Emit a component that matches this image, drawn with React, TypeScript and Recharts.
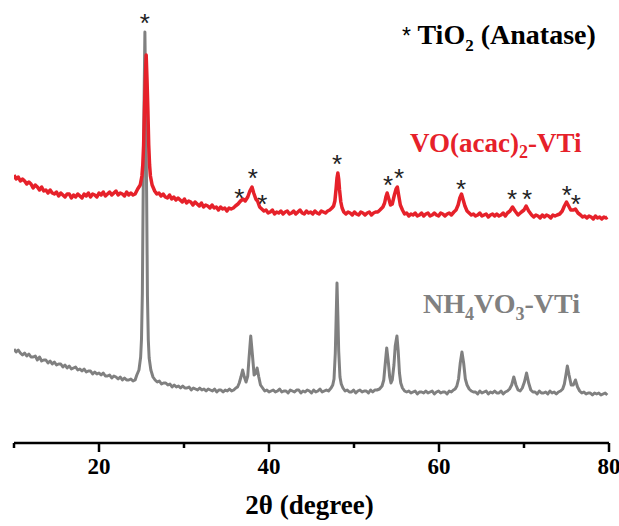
import { ComposedChart, Line, Scatter, XAxis, YAxis } from "recharts"

// 2θ (degree), intensity (a.u.)
const nh4vo3Pattern: [number, number][] = [
  [10.0, 94], [10.25, 91], [10.5, 93], [10.75, 90], [11.0, 88], [11.25, 90], [11.5, 87], [11.75, 89],
  [12.0, 86], [12.25, 86], [12.5, 87], [12.75, 83], [13.0, 86], [13.25, 82], [13.5, 83], [13.75, 83],
  [14.0, 80], [14.25, 82], [14.5, 79], [14.75, 81], [15.0, 78], [15.25, 79], [15.5, 79], [15.75, 76],
  [16.0, 78], [16.25, 75], [16.5, 77], [16.75, 74], [17.0, 75], [17.25, 76], [17.5, 73], [17.75, 74],
  [18.0, 72], [18.25, 74], [18.5, 71], [18.75, 72], [19.0, 72], [19.25, 69], [19.5, 71], [19.75, 69],
  [20.0, 70], [20.25, 68], [20.5, 70], [20.75, 67], [21.0, 67], [21.25, 68], [21.5, 65], [21.75, 67],
  [22.0, 66], [22.25, 64], [22.5, 66], [22.75, 63], [23.0, 65], [23.25, 63], [23.5, 63], [23.75, 64],
  [24.0, 62], [24.25, 63], [24.45, 68], [24.7, 73], [24.9, 86], [25.0, 104], [25.1, 149], [25.2, 253],
  [25.3, 340], [25.4, 411], [25.5, 340], [25.6, 252], [25.7, 147], [25.8, 103], [25.9, 85], [26.1, 73],
  [26.35, 66], [26.6, 63], [26.85, 61], [27.1, 62], [27.35, 59], [27.6, 60], [27.85, 60], [28.1, 58],
  [28.35, 59], [28.6, 56], [28.85, 58], [29.1, 56], [29.35, 57], [29.6, 55], [29.85, 57], [30.1, 55],
  [30.35, 55], [30.6, 56], [30.85, 53], [31.1, 55], [31.35, 54], [31.6, 53], [31.85, 55], [32.1, 53],
  [32.35, 54], [32.6, 52], [32.85, 54], [33.1, 53], [33.35, 52], [33.6, 54], [33.85, 51], [34.1, 53],
  [34.35, 53], [34.6, 51], [34.85, 53], [35.1, 52], [35.35, 54], [35.6, 52], [35.85, 53], [36.1, 55],
  [36.3, 56], [36.5, 60], [36.7, 66], [36.9, 73], [37.1, 66], [37.3, 61], [37.5, 67], [37.65, 85],
  [37.85, 107], [38.05, 88], [38.25, 68], [38.45, 70], [38.6, 75], [38.8, 66], [39.0, 58], [39.25, 55],
  [39.5, 52], [39.75, 53], [40.0, 51], [40.25, 52], [40.5, 53], [40.75, 51], [41.0, 52], [41.25, 54],
  [41.5, 51], [41.75, 52], [42.0, 52], [42.25, 50], [42.5, 53], [42.75, 52], [43.0, 51], [43.25, 53],
  [43.5, 53], [43.75, 50], [44.0, 52], [44.25, 51], [44.5, 53], [44.75, 52], [45.0, 50], [45.25, 53],
  [45.5, 51], [45.75, 52], [46.0, 54], [46.25, 51], [46.5, 52], [46.75, 53], [47.0, 52], [47.3, 55],
  [47.5, 58], [47.65, 64], [47.8, 90], [47.9, 125], [48.0, 160], [48.1, 128], [48.2, 92], [48.35, 66],
  [48.5, 59], [48.7, 55], [48.95, 52], [49.2, 53], [49.45, 51], [49.7, 51], [49.95, 53], [50.2, 50],
  [50.45, 52], [50.7, 53], [50.95, 51], [51.2, 52], [51.45, 52], [51.7, 50], [51.95, 53], [52.2, 51],
  [52.45, 53], [52.7, 53], [53.0, 54], [53.3, 57], [53.5, 63], [53.65, 77], [53.85, 95], [54.05, 80],
  [54.2, 66], [54.35, 60], [54.5, 63], [54.7, 78], [54.85, 97], [55.05, 107], [55.2, 92], [55.35, 70],
  [55.5, 60], [55.7, 55], [55.95, 52], [56.2, 51], [56.45, 52], [56.7, 50], [56.95, 51], [57.2, 52],
  [57.45, 49], [57.7, 51], [57.95, 51], [58.2, 50], [58.45, 52], [58.7, 50], [58.95, 51], [59.2, 52],
  [59.45, 49], [59.7, 51], [59.95, 52], [60.2, 50], [60.45, 51], [60.7, 51], [60.95, 49], [61.2, 52],
  [61.45, 51], [61.7, 53], [61.9, 54], [62.1, 57], [62.3, 64], [62.5, 80], [62.7, 91], [62.9, 80],
  [63.1, 64], [63.3, 58], [63.55, 54], [63.8, 52], [64.05, 51], [64.3, 51], [64.55, 49], [64.8, 52],
  [65.05, 50], [65.3, 51], [65.55, 52], [65.8, 49], [66.05, 51], [66.3, 50], [66.55, 52], [66.8, 50],
  [67.05, 50], [67.3, 52], [67.55, 49], [67.8, 51], [68.05, 52], [68.3, 54], [68.55, 58], [68.8, 66],
  [69.05, 58], [69.3, 53], [69.55, 52], [69.8, 55], [70.05, 61], [70.3, 70], [70.55, 60], [70.8, 53],
  [71.05, 51], [71.3, 51], [71.55, 49], [71.8, 52], [72.05, 50], [72.3, 50], [72.55, 51], [72.8, 49],
  [73.05, 52], [73.3, 50], [73.55, 51], [73.8, 49], [74.05, 51], [74.3, 52], [74.55, 54], [74.75, 59],
  [74.95, 69], [75.1, 77], [75.3, 68], [75.55, 58], [75.8, 58], [76.05, 63], [76.3, 56], [76.55, 52],
  [76.8, 50], [77.05, 51], [77.3, 49], [77.55, 50], [77.8, 50], [78.05, 48], [78.3, 50], [78.55, 49],
  [78.8, 50], [79.05, 48], [79.3, 49], [79.55, 50], [79.8, 48],
]

const voacacPattern: [number, number][] = [
  [10.0, 268], [10.25, 264], [10.5, 266], [10.75, 262], [11.0, 264], [11.25, 262], [11.5, 259], [11.75, 261],
  [12.0, 259], [12.25, 255], [12.5, 258], [12.75, 256], [13.0, 253], [13.25, 256], [13.5, 252], [13.75, 253],
  [14.0, 250], [14.25, 253], [14.5, 250], [14.75, 249], [15.0, 251], [15.25, 247], [15.5, 250], [15.75, 248],
  [16.0, 246], [16.25, 249], [16.5, 249], [16.75, 245], [17.0, 248], [17.25, 246], [17.5, 249], [17.75, 247],
  [18.0, 245], [18.25, 249], [18.5, 247], [18.75, 250], [19.0, 246], [19.25, 249], [19.5, 248], [19.75, 246],
  [20.0, 250], [20.25, 248], [20.5, 251], [20.75, 247], [21.0, 249], [21.25, 251], [21.5, 248], [21.75, 250],
  [22.0, 252], [22.25, 248], [22.5, 250], [22.75, 249], [23.0, 247], [23.25, 251], [23.5, 248], [23.75, 250],
  [24.0, 248], [24.25, 249], [24.55, 254], [24.85, 258], [25.05, 267], [25.15, 278], [25.25, 298], [25.35, 333],
  [25.45, 363], [25.55, 388], [25.65, 363], [25.75, 333], [25.85, 298], [25.95, 278], [26.05, 267], [26.25, 258],
  [26.55, 252], [26.8, 249], [27.05, 250], [27.3, 247], [27.55, 249], [27.8, 246], [28.05, 245], [28.3, 248],
  [28.55, 244], [28.8, 246], [29.05, 243], [29.3, 245], [29.55, 243], [29.8, 241], [30.05, 244], [30.3, 240],
  [30.55, 242], [30.8, 241], [31.05, 238], [31.3, 241], [31.55, 239], [31.8, 237], [32.05, 240], [32.3, 236],
  [32.55, 238], [32.8, 237], [33.05, 235], [33.3, 238], [33.55, 235], [33.8, 236], [34.05, 233], [34.3, 236],
  [34.55, 234], [34.8, 235], [35.05, 232], [35.3, 235], [35.55, 234], [35.8, 235], [36.05, 237], [36.35, 239],
  [36.65, 242], [36.95, 244], [37.2, 242], [37.5, 246], [37.75, 252], [38.0, 256], [38.2, 250], [38.45, 244],
  [38.65, 242], [38.9, 236], [39.15, 234], [39.4, 232], [39.65, 233], [39.9, 230], [40.15, 231], [40.4, 233],
  [40.65, 229], [40.9, 231], [41.15, 230], [41.4, 232], [41.65, 229], [41.9, 231], [42.15, 232], [42.4, 229],
  [42.65, 230], [42.9, 232], [43.15, 229], [43.4, 231], [43.65, 233], [43.9, 230], [44.15, 229], [44.4, 232],
  [44.65, 230], [44.9, 231], [45.15, 229], [45.4, 232], [45.65, 230], [45.9, 229], [46.15, 232], [46.4, 231],
  [46.65, 230], [46.9, 232], [47.15, 233], [47.4, 235], [47.6, 237], [47.75, 242], [47.9, 255], [48.0, 265],
  [48.1, 270], [48.2, 264], [48.3, 253], [48.45, 241], [48.6, 235], [48.8, 231], [49.05, 229], [49.3, 231],
  [49.55, 230], [49.8, 228], [50.05, 231], [50.3, 229], [50.55, 228], [50.8, 231], [51.05, 230], [51.3, 228],
  [51.55, 230], [51.8, 231], [52.05, 228], [52.3, 230], [52.55, 231], [52.8, 231], [53.05, 233], [53.4, 236],
  [53.6, 240], [53.75, 246], [53.9, 250], [54.1, 244], [54.3, 238], [54.5, 239], [54.75, 248], [54.95, 254],
  [55.1, 256], [55.25, 248], [55.45, 238], [55.7, 233], [55.95, 229], [56.2, 230], [56.45, 227], [56.7, 229],
  [56.95, 228], [57.2, 230], [57.45, 227], [57.7, 228], [57.95, 230], [58.2, 227], [58.45, 229], [58.7, 230],
  [58.95, 227], [59.2, 228], [59.45, 230], [59.7, 228], [59.95, 227], [60.2, 230], [60.45, 229], [60.7, 227],
  [60.95, 229], [61.2, 230], [61.45, 228], [61.75, 231], [62.0, 233], [62.25, 238], [62.45, 245], [62.65, 249],
  [62.85, 243], [63.05, 237], [63.3, 232], [63.55, 230], [63.8, 228], [64.05, 229], [64.3, 227], [64.55, 228],
  [64.8, 230], [65.05, 227], [65.3, 228], [65.55, 229], [65.8, 226], [66.05, 228], [66.3, 229], [66.55, 227],
  [66.8, 229], [67.05, 227], [67.3, 228], [67.55, 230], [67.8, 227], [68.05, 230], [68.35, 232], [68.65, 236],
  [68.95, 232], [69.3, 228], [69.7, 231], [70.0, 233], [70.25, 237], [70.55, 232], [70.9, 228], [71.15, 226],
  [71.4, 228], [71.65, 227], [71.9, 225], [72.15, 228], [72.4, 226], [72.65, 228], [72.9, 227], [73.15, 225],
  [73.4, 228], [73.65, 227], [73.9, 228], [74.2, 229], [74.5, 232], [74.75, 237], [75.0, 241], [75.25, 237],
  [75.5, 233], [75.8, 233], [76.05, 234], [76.35, 230], [76.65, 228], [76.9, 226], [77.15, 227], [77.4, 225],
  [77.65, 227], [77.9, 226], [78.15, 224], [78.4, 227], [78.65, 225], [78.9, 226], [79.15, 224], [79.4, 226],
  [79.65, 225], [79.8, 226],
]

// anatase reflection markers
const starTheta = [25.4, 36.5, 38.1, 39.2, 48.0, 54.0, 55.3, 62.6, 68.6, 70.35, 75.05, 76.1]
const starHeight = [426, 251, 271, 245, 285, 264, 271, 260, 250, 250, 254, 245]

const xTicks = [10, 20, 30, 40, 50, 60, 70, 80]

const RED = "#e6212a"
const GRAY = "#808080"
const SERIF = "'Liberation Serif', 'Times New Roman', serif"

const toRows = (p: [number, number][]) => p.map(([x, y]) => ({ x, y }))
const nh4Rows = toRows(nh4vo3Pattern)
const voRows = toRows(voacacPattern)
const starRows = starTheta.map((x, i) => ({ x, y: starHeight[i] }))

function XTick(props: any) {
  const { x, y, payload } = props
  const major = payload.value % 20 === 0
  return (
    <g>
      <line x1={x} x2={x} y1={y} y2={y + (major ? 9 : 5)} stroke="#000" strokeWidth={2.5} />
      {major && (
        <text x={x} y={y + 31} textAnchor="middle" fontFamily={SERIF} fontWeight="bold" fontSize={23} fill="#000">
          {payload.value}
        </text>
      )}
    </g>
  )
}

function Star(props: any) {
  const { cx, cy } = props
  return (
    <text x={cx} y={cy + 15} textAnchor="middle" fontFamily="'Liberation Sans', Arial, sans-serif" fontSize={26} fill="#222">
      *
    </text>
  )
}

export default function App() {
  return (
    <div style={{ position: "relative", width: 619, height: 526, background: "#fff", fontFamily: SERIF }}>
      <style>{"body{margin:0}"}</style>
      <ComposedChart width={619} height={526} margin={{ top: 13, right: 10, left: 14, bottom: 0 }}>
        <XAxis
          type="number"
          dataKey="x"
          domain={[10, 80]}
          ticks={xTicks}
          allowDataOverflow
          height={83}
          tickSize={0}
          tickMargin={0}
          tickLine={false}
          tick={<XTick />}
          axisLine={{ stroke: "#000", strokeWidth: 2.5 }}
          interval={0}
        />
        <YAxis type="number" domain={[0, 430]} hide />
        <Line data={nh4Rows} dataKey="y" stroke={GRAY} strokeWidth={3} strokeLinejoin="round" dot={false} isAnimationActive={false} />
        <Line data={voRows} dataKey="y" stroke={RED} strokeWidth={3.5} strokeLinejoin="round" dot={false} isAnimationActive={false} />
        <Scatter data={starRows} dataKey="y" shape={<Star />} isAnimationActive={false} />
      </ComposedChart>

      <div style={{ position: "absolute", left: 402, top: 21, fontSize: 28, fontWeight: "bold", lineHeight: 1, color: "#000", whiteSpace: "nowrap" }}>
        <span style={{ fontFamily: "'Liberation Sans', Arial, sans-serif", fontWeight: "normal", fontSize: 23 }}>*</span> TiO
        <sub style={{ fontSize: 17 }}>2</sub> (Anatase)
      </div>
      <div style={{ position: "absolute", left: 410, top: 130, fontSize: 27, fontWeight: "bold", lineHeight: 1, color: RED, whiteSpace: "nowrap" }}>
        VO(acac)<sub style={{ fontSize: 18 }}>2</sub>-VTi
      </div>
      <div style={{ position: "absolute", left: 423, top: 290, fontSize: 28, fontWeight: "bold", lineHeight: 1, color: GRAY, whiteSpace: "nowrap" }}>
        NH<sub style={{ fontSize: 18 }}>4</sub>VO<sub style={{ fontSize: 18 }}>3</sub>-VTi
      </div>
      <div style={{ position: "absolute", left: 0, width: 619, top: 492, textAlign: "center", fontSize: 27, fontWeight: "bold", lineHeight: 1, color: "#000" }}>
        2θ (degree)
      </div>
    </div>
  )
}
